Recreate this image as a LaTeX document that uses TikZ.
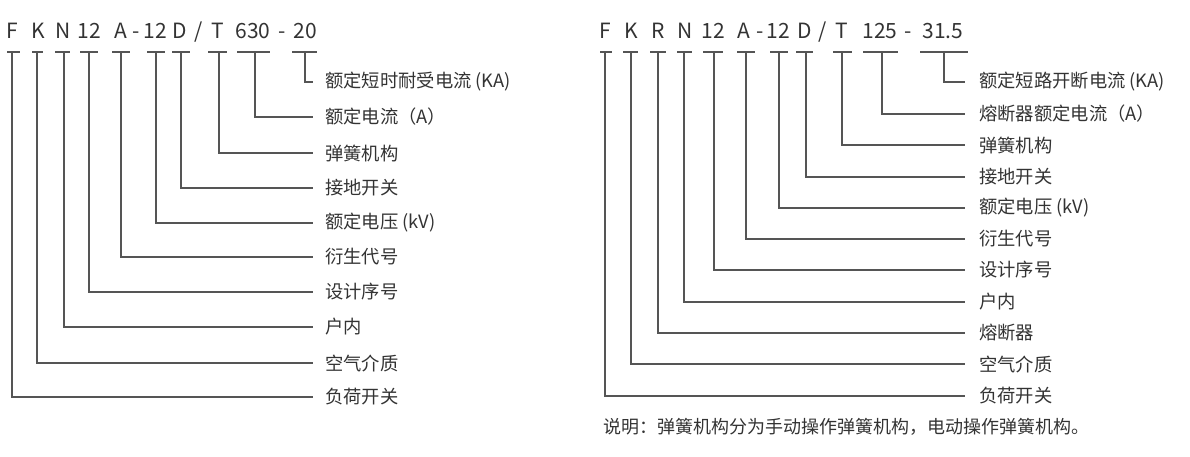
\documentclass[tikz,border=0pt]{standalone}
\usepackage{fontspec}
\newfontfamily\cjk{Noto Sans CJK SC}
\definecolor{txt}{HTML}{333333}
\definecolor{lne}{HTML}{555555}
\tikzset{
  code/.style={font=\cjk\fontsize{21}{24}\selectfont, text=txt, anchor=base, inner sep=0},
  lab/.style={font=\cjk\fontsize{18.3}{21}\selectfont, text=txt, anchor=west, inner sep=0},
  ln/.style={draw=lne, line width=1.2pt},
}
\begin{document}
\begin{tikzpicture}[x=1pt,y=-1pt]
\useasboundingbox (0,0) rectangle (1190,456);
% ---------- left code ----------
\foreach \x/\t [count=\i] in {12/F,38/K,63/N,89/12,121/A,136/-,155/12,180/D,199/{/},218/T,253/630,282/-,305/20}
  \node[code] (Lt\i) at (\x,38) {\t};
\foreach \v/\a/\b/\y/\txt [count=\i] in {
  305/292/317/82/{额定短时耐受电流 (KA)},
  255/237/270/117/{额定电流（A）},
  219/208/227/153/{弹簧机构},
  181/172/190/188/{接地开关},
  156/147/165/223/{额定电压 (kV)},
  121/112/130/257/{衍生代号},
  89/80/98/292/{设计序号},
  64/55/70/327/{户内},
  37/32/43/363/{空气介质},
  12/7/20/397/{负荷开关}} {
  \coordinate (La\i) at (\a,52);
  \coordinate (Lb\i) at (\b,52);
  \coordinate (Lv\i) at (\v,52);
  \node[lab] (Ll\i) at (325,\y) {\txt};
  \draw[ln] (La\i) -- (Lb\i);
  \draw[ln] (Lv\i) |- ([xshift=-12pt]Ll\i.west);
}
% ---------- right code ----------
\foreach \x/\t [count=\i] in {605/F,631/K,658/R,685/N,713/12,744/A,760/-,778/12,805/D,823/{/},842/T,880/125,908/-,943/31.5}
  \node[code] (Rt\i) at (\x,38) {\t};
\foreach \v/\a/\b/\y/\txt [count=\i] in {
  944/920/968/82/{额定短路开断电流 (KA)},
  882/863/898/114/{熔断器额定电流（A）},
  842/833/852/145/{弹簧机构},
  806/796/813/177/{接地开关},
  779/770/788/208/{额定电压 (kV)},
  746/737/755/239/{衍生代号},
  714/703/723/270/{设计序号},
  684/677/692/302/{户内},
  658/650/666/333/{熔断器},
  631/623/638/364/{空气介质},
  605/600/612/396/{负荷开关}} {
  \coordinate (Ra\i) at (\a,52);
  \coordinate (Rb\i) at (\b,52);
  \coordinate (Rv\i) at (\v,52);
  \node[lab] (Rl\i) at (979,\y) {\txt};
  \draw[ln] (Ra\i) -- (Rb\i);
  \draw[ln] (Rv\i) |- ([xshift=-14pt]Rl\i.west);
}
\node[lab, font=\cjk\fontsize{18}{20}\selectfont] (note) at (603,427) {说明：弹簧机构分为手动操作弹簧机构，电动操作弹簧机构。};
\end{tikzpicture}
\end{document}
